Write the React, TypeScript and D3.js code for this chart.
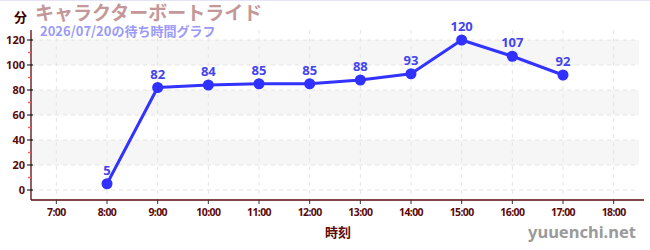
import React from "react";
import * as d3 from "d3";

const hours = [8, 9, 10, 11, 12, 13, 14, 15, 16, 17];
const waits = [5, 82, 84, 85, 85, 88, 93, 120, 107, 92];
const xTickHours = [7, 8, 9, 10, 11, 12, 13, 14, 15, 16, 17, 18];
const yTicks = [0, 20, 40, 60, 80, 100, 120];
const yMinorTicks = [10, 30, 50, 70, 90, 110];
const bands = [[20, 40], [60, 80], [100, 120]];
const title = "キャラクターボートライド";
const subtitle = "2026/07/20の待ち時間グラフ";

const W = 650, H = 250;
const left = 31, right = 639, top = 30, bottom = 200;

export default function App() {
  const x = d3.scaleLinear().domain([6.5, 18.5]).range([left, right]);
  const y = d3.scaleLinear().domain([-8, 128]).range([bottom, top]);
  const line = d3.line<number>().x((_, i) => x(hours[i])).y((d) => y(d));
  const axisColor = "#5a0a0a";
  const font = "'Noto Sans', sans-serif";
  return (
    <svg width={W} height={H} style={{ position: "absolute", left: 0, top: 0, background: "#fff" }} fontFamily={font}>
      <line x1={0} x2={W} y1={0.5} y2={0.5} stroke="#e4e4f8" />
      {bands.map(([a, b], i) => (
        <rect key={i} x={left} width={right - left} y={y(b)} height={y(a) - y(b)} fill="#f6f6f6" />
      ))}
      {yTicks.map((t) => (
        <line key={"gy" + t} x1={left} x2={right} y1={y(t)} y2={y(t)} stroke="#e4e4e4" strokeDasharray="4,4" />
      ))}
      {xTickHours.map((h) => (
        <line key={"gx" + h} x1={x(h)} x2={x(h)} y1={top} y2={bottom} stroke="#e4e4e4" strokeDasharray="4,4" />
      ))}
      <line x1={left} x2={left} y1={top} y2={bottom} stroke={axisColor} strokeWidth={1.3} />
      <line x1={left} x2={right + 5} y1={bottom} y2={bottom} stroke={axisColor} strokeWidth={1.3} />
      {yMinorTicks.map((t) => (
        <line key={"my" + t} x1={left - 3} x2={left} y1={y(t)} y2={y(t)} stroke="#f06060" strokeWidth={1.5} />
      ))}
      {yTicks.map((t) => (
        <g key={"ty" + t}>
          <line x1={left - 4} x2={left + 2} y1={y(t)} y2={y(t)} stroke="#000" strokeWidth={1} />
          <text x={left - 6} y={y(t)} dy="0.35em" textAnchor="end" fontSize={11} fontWeight="bold" fill={axisColor}>{t}</text>
        </g>
      ))}
      {xTickHours.map((h) => (
        <g key={"tx" + h}>
          <line x1={x(h)} x2={x(h)} y1={bottom} y2={bottom + 4} stroke="#333" strokeWidth={1} />
          <text x={x(h)} y={bottom + 16} textAnchor="middle" fontSize={10.5} fontWeight="bold" fill={axisColor} letterSpacing={-0.6}>{`${h}:00`}</text>
        </g>
      ))}
      <path d={line(waits) || ""} fill="none" stroke="#3333ff" strokeWidth={3} strokeLinejoin="round" />
      {waits.map((v, i) => (
        <g key={"p" + i}>
          <circle cx={x(hours[i])} cy={y(v)} r={5.5} fill="#3030ff" />
          <text x={x(hours[i])} y={y(v) - 9} textAnchor="middle" fontSize={13} fontWeight="bold" fill="#4444ee">{v}</text>
        </g>
      ))}
      <text x={14} y={22} fontSize={13} fontWeight="bold" fill="#3a0000" fontFamily="'Noto Sans CJK JP', sans-serif">分</text>
      <text x={35} y={20} fontSize={19} fontWeight="bold" fill="#c49898" fontFamily="'Noto Sans CJK JP', sans-serif">{title}</text>
      <text x={40} y={36} fontSize={13} fontWeight="bold" fill="#9a9af8" fontFamily="'Noto Sans CJK JP', sans-serif">{subtitle}</text>
      <text x={(left + right) / 2 + 3} y={237} textAnchor="middle" fontSize={13} fontWeight="bold" fill={axisColor} fontFamily="'Noto Sans CJK JP', sans-serif">時刻</text>
      <text x={636} y={238} textAnchor="end" fontSize={16.5} fontWeight="bold" fill="#9a9a9a" fontFamily={font}>yuuenchi.net</text>
    </svg>
  );
}
